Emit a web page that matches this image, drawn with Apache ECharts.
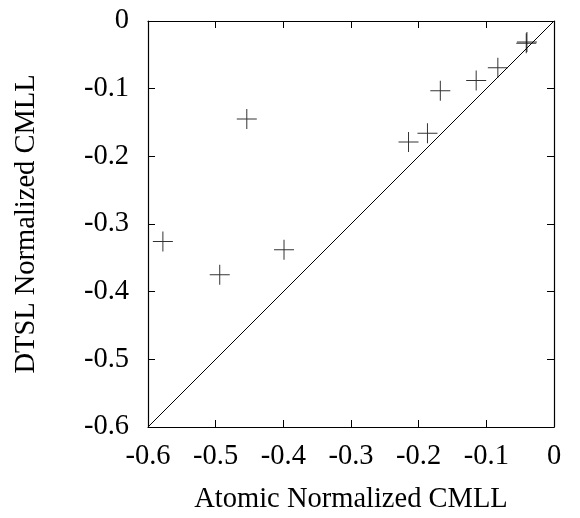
<!DOCTYPE html>
<html>
<head>
<meta charset="utf-8">
<script src="https://cdn.jsdelivr.net/npm/echarts@6/dist/echarts.min.js"></script>
<style>
  html, body { margin: 0; padding: 0; background: #fff; }
  #chart { width: 580px; height: 518px; }
</style>
</head>
<body>
<div id="chart"></div>
<script>
// atomic vs DTSL normalized CMLL
var atomicCmll = [-0.578, -0.494, -0.454, -0.399, -0.215, -0.187, -0.168, -0.115, -0.083, -0.040, -0.041];
var dtslCmll   = [-0.326, -0.375, -0.145, -0.338, -0.179, -0.166, -0.103, -0.088, -0.069, -0.031, -0.033];
var diagonal = [-0.6, 0];

var points = atomicCmll.map(function (x, i) { return [x, dtslCmll[i]]; });
var diagPts = diagonal.map(function (v) { return [v, v]; });

var plus = 'path://M0,9.5h20v1h-20z M9.5,0h1v20h-1z';
var font = '"Liberation Serif", "DejaVu Serif", serif';

var tickStyle = { show: true, inside: true, length: 7, lineStyle: { color: '#000', width: 1 } };
var lineStyle = { show: true, onZero: false, lineStyle: { color: '#000', width: 1.2 } };

var chart = echarts.init(document.getElementById('chart'));
chart.setOption({
  animation: false,
  grid: { left: 148, right: 26, top: 21, bottom: 91, outerBoundsMode: 'none' },
  xAxis: [{
    type: 'value', min: -0.6, max: 0, interval: 0.1,
    name: 'Atomic Normalized CMLL', nameLocation: 'middle', nameGap: 58,
    nameTextStyle: { fontFamily: font, fontSize: 28.5, color: '#000' },
    axisLine: lineStyle, axisTick: tickStyle, splitLine: { show: false },
    axisLabel: { fontFamily: font, fontSize: 28.5, color: '#000', margin: 15 }
  }, {
    type: 'value', min: -0.6, max: 0, interval: 0.1, position: 'top',
    axisLine: lineStyle, axisTick: tickStyle, splitLine: { show: false },
    axisLabel: { show: false }
  }],
  yAxis: [{
    type: 'value', min: -0.6, max: 0, interval: 0.1,
    name: 'DTSL Normalized CMLL', nameLocation: 'middle', nameGap: 107,
    nameTextStyle: { fontFamily: font, fontSize: 28.5, color: '#000' },
    axisLine: lineStyle, axisTick: tickStyle, splitLine: { show: false },
    axisLabel: { fontFamily: font, fontSize: 28.5, color: '#000', margin: 19 }
  }, {
    type: 'value', min: -0.6, max: 0, interval: 0.1, position: 'right',
    axisLine: lineStyle, axisTick: tickStyle, splitLine: { show: false },
    axisLabel: { show: false }
  }],
  series: [{
    type: 'line', data: diagPts, symbol: 'none',
    lineStyle: { color: '#000', width: 1 }, silent: true
  }, {
    type: 'scatter', data: points, symbol: plus, symbolSize: 20,
    itemStyle: { color: '#000' }
  }]
});
</script>
</body>
</html>
